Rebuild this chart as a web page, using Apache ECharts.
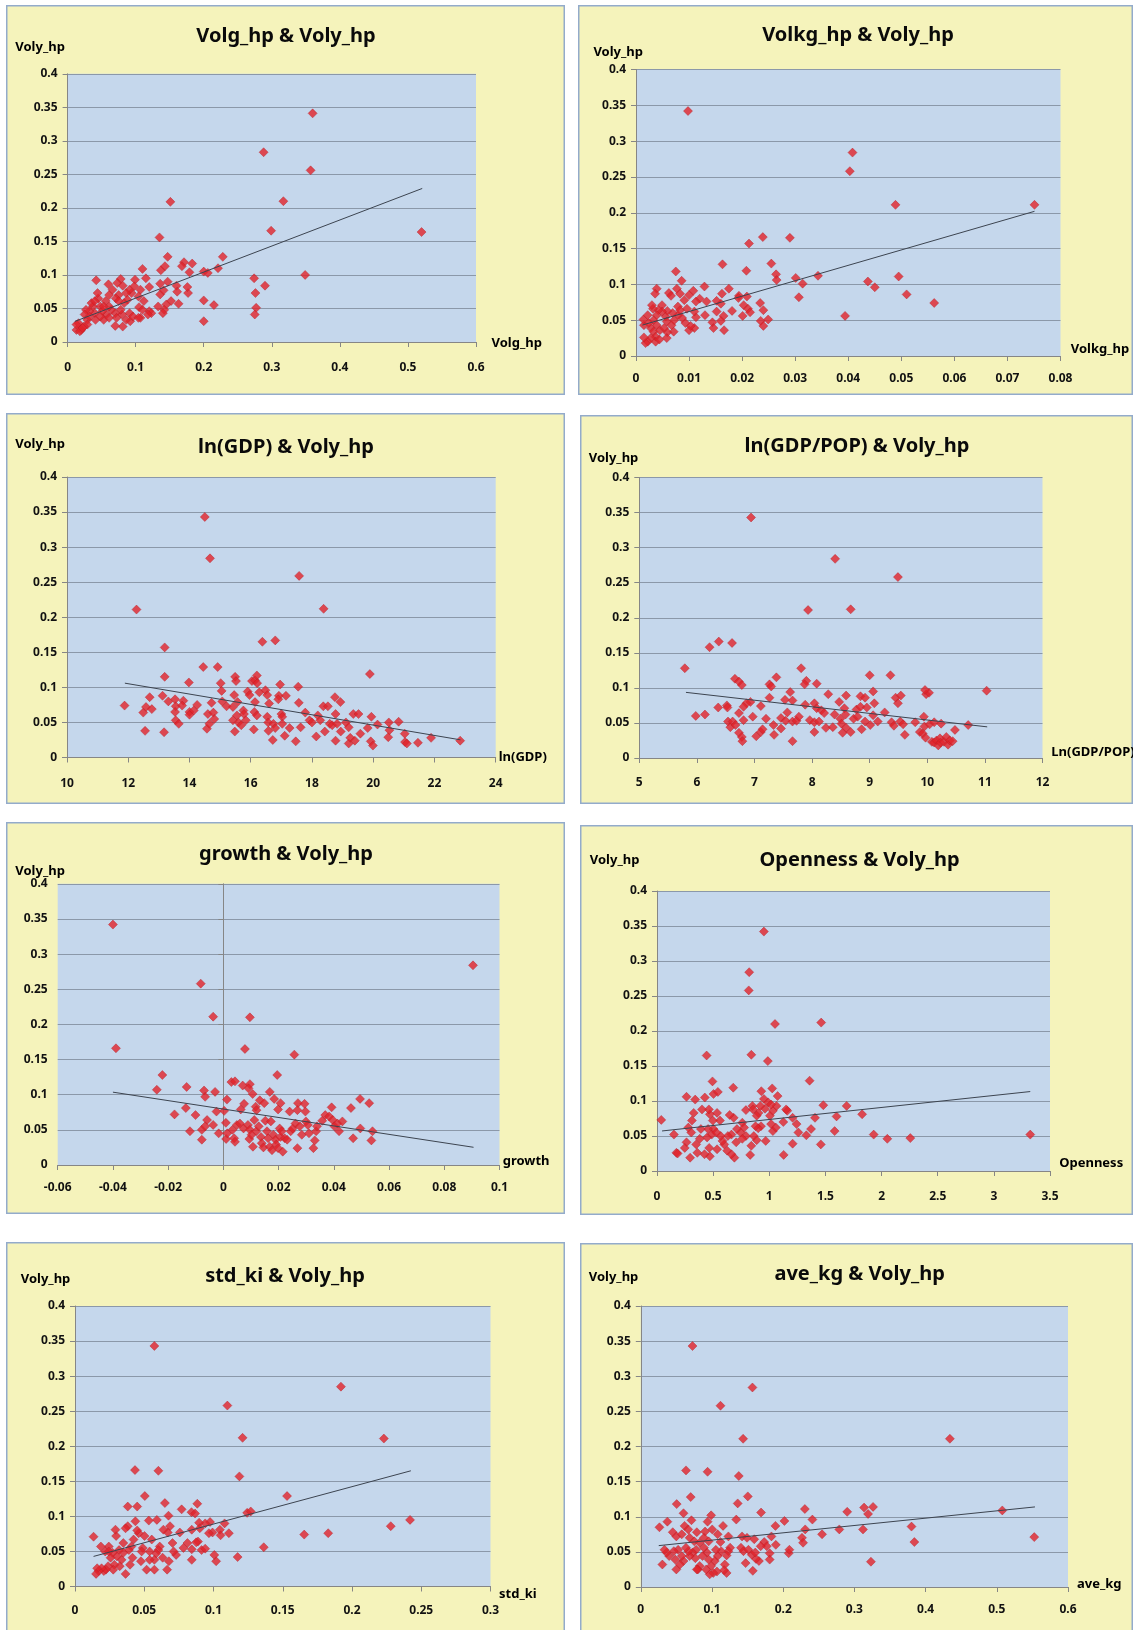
<!DOCTYPE html>
<html><head><meta charset="utf-8">
<script src="https://cdn.jsdelivr.net/npm/echarts/dist/echarts.min.js"></script>
<style>
html,body{margin:0;padding:0;background:#fff;width:1134px;height:1630px;overflow:hidden;}
.panel{position:absolute;background:#F5F3BB;box-shadow:inset 0 0 0 1.5px #93ABCB;}
.chart{position:absolute;left:0;top:0;}
</style></head><body>
<script>
// ---------------- DATA ----------------
const yName = 'Voly_hp';
const titles = ['Volg_hp & Voly_hp','Volkg_hp & Voly_hp','ln(GDP) & Voly_hp','ln(GDP/POP) & Voly_hp','growth & Voly_hp','Openness & Voly_hp','std_ki & Voly_hp','ave_kg & Voly_hp'];
const xNames = ['Volg_hp','Volkg_hp','ln(GDP)','Ln(GDP/POP)','growth','Openness','std_ki','ave_kg'];
const xMin = [0, 0, 10, 5, -0.06, 0, 0, 0];
const xMax = [0.6, 0.08, 24, 12, 0.1, 3.5, 0.3, 0.6];
const xStep = [0.1, 0.01, 2, 1, 0.02, 0.5, 0.05, 0.1];
const yTicks = [0, 0.4, 0.05];

const volgHp = [[0.360,0.341],[0.288,0.283],[0.357,0.256],[0.151,0.209],[0.317,0.210],[0.299,0.166],[0.520,0.164],[0.135,0.156],[0.147,0.127],[0.228,0.127],[0.171,0.119],[0.183,0.117],[0.221,0.110],[0.200,0.105],[0.206,0.103],[0.179,0.104],[0.110,0.109],[0.137,0.107],[0.143,0.113],[0.168,0.113],[0.349,0.100],[0.274,0.095],[0.290,0.084],[0.276,0.073],[0.277,0.051],[0.275,0.041],[0.200,0.062],[0.215,0.055],[0.200,0.031],[0.163,0.057],[0.177,0.073],[0.176,0.082],[0.160,0.084],[0.161,0.075],[0.147,0.090],[0.136,0.087],[0.136,0.071],[0.141,0.077],[0.152,0.061],[0.145,0.056],[0.142,0.048],[0.140,0.043],[0.133,0.053],[0.120,0.046],[0.123,0.043],[0.115,0.095],[0.120,0.082],[0.107,0.036],[0.105,0.052],[0.110,0.048],[0.107,0.078],[0.104,0.068],[0.112,0.061],[0.099,0.093],[0.098,0.083],[0.094,0.073],[0.091,0.078],[0.086,0.073],[0.088,0.063],[0.092,0.031],[0.091,0.043],[0.083,0.058],[0.080,0.041],[0.081,0.023],[0.078,0.048],[0.078,0.094],[0.073,0.088],[0.081,0.084],[0.075,0.070],[0.071,0.065],[0.075,0.061],[0.070,0.043],[0.072,0.036],[0.070,0.024],[0.064,0.048],[0.061,0.070],[0.060,0.086],[0.056,0.061],[0.057,0.041],[0.053,0.033],[0.048,0.053],[0.045,0.065],[0.044,0.073],[0.042,0.092],[0.040,0.043],[0.041,0.033],[0.037,0.053],[0.035,0.058],[0.032,0.046],[0.029,0.033],[0.027,0.048],[0.025,0.041],[0.029,0.026],[0.024,0.023],[0.020,0.018],[0.016,0.028],[0.013,0.018],[0.018,0.016],[0.022,0.021],[0.013,0.026],[0.051,0.046],[0.040,0.061],[0.066,0.078],[0.061,0.036],[0.048,0.038],[0.086,0.033],[0.096,0.038],[0.104,0.036],[0.118,0.041],[0.061,0.053],[0.053,0.053],[0.032,0.038]];

const volkgHp = [[0.0098,0.342],[0.0408,0.284],[0.0403,0.258],[0.0489,0.211],[0.0751,0.211],[0.0239,0.166],[0.0290,0.165],[0.0213,0.157],[0.0163,0.128],[0.0255,0.129],[0.0208,0.119],[0.0264,0.114],[0.0265,0.106],[0.0301,0.109],[0.0314,0.101],[0.0343,0.112],[0.0437,0.104],[0.0450,0.096],[0.0495,0.111],[0.0510,0.086],[0.0562,0.074],[0.0394,0.056],[0.0307,0.082],[0.0075,0.118],[0.0086,0.105],[0.0129,0.097],[0.0175,0.094],[0.0077,0.094],[0.0039,0.094],[0.0036,0.087],[0.0108,0.091],[0.0100,0.085],[0.0083,0.087],[0.0062,0.088],[0.0066,0.084],[0.0091,0.078],[0.0120,0.080],[0.0113,0.076],[0.0133,0.076],[0.0162,0.087],[0.0160,0.073],[0.0152,0.077],[0.0194,0.084],[0.0193,0.081],[0.0209,0.083],[0.0234,0.074],[0.0203,0.071],[0.0211,0.066],[0.0215,0.061],[0.0240,0.064],[0.0201,0.056],[0.0235,0.049],[0.0249,0.051],[0.0240,0.042],[0.0181,0.063],[0.0165,0.056],[0.0160,0.049],[0.0166,0.036],[0.0144,0.047],[0.0146,0.039],[0.0152,0.062],[0.0130,0.057],[0.0113,0.054],[0.0110,0.039],[0.0100,0.036],[0.0103,0.042],[0.0093,0.046],[0.0087,0.053],[0.0079,0.057],[0.0079,0.069],[0.0110,0.062],[0.0069,0.060],[0.0059,0.063],[0.0056,0.055],[0.0058,0.048],[0.0067,0.043],[0.0071,0.034],[0.0059,0.033],[0.0058,0.025],[0.0049,0.071],[0.0049,0.062],[0.0042,0.064],[0.0032,0.066],[0.0030,0.071],[0.0039,0.057],[0.0033,0.050],[0.0039,0.043],[0.0028,0.039],[0.0033,0.034],[0.0037,0.027],[0.0028,0.025],[0.0037,0.020],[0.0044,0.023],[0.0022,0.020],[0.0018,0.018],[0.0015,0.026],[0.0015,0.043],[0.0014,0.051],[0.0024,0.046],[0.0045,0.036],[0.0053,0.039],[0.0022,0.057],[0.0072,0.050],[0.0083,0.064],[0.0096,0.066]];

const lnGdp = [[14.50,0.343],[14.67,0.284],[17.58,0.259],[12.27,0.211],[18.38,0.212],[13.19,0.157],[16.38,0.165],[16.80,0.167],[14.45,0.129],[14.92,0.129],[19.89,0.119],[13.19,0.115],[13.98,0.107],[11.88,0.074],[12.55,0.038],[12.49,0.064],[12.58,0.072],[12.70,0.086],[12.77,0.069],[13.12,0.088],[13.17,0.036],[13.31,0.080],[13.53,0.083],[13.55,0.073],[13.53,0.065],[13.55,0.053],[13.65,0.048],[13.80,0.081],[13.76,0.074],[14.00,0.065],[14.00,0.061],[14.14,0.067],[14.25,0.075],[14.57,0.041],[14.65,0.048],[14.60,0.062],[14.72,0.078],[14.78,0.064],[14.81,0.055],[15.02,0.106],[15.05,0.095],[15.07,0.080],[15.21,0.073],[15.42,0.072],[15.42,0.053],[15.48,0.037],[15.46,0.089],[15.49,0.115],[15.52,0.109],[15.57,0.079],[15.55,0.060],[15.60,0.050],[15.69,0.046],[15.76,0.067],[15.78,0.062],[15.84,0.053],[15.90,0.094],[15.96,0.089],[16.04,0.109],[16.14,0.110],[16.20,0.117],[16.21,0.106],[16.14,0.079],[16.12,0.065],[16.10,0.040],[16.20,0.060],[16.28,0.093],[16.48,0.096],[16.54,0.089],[16.60,0.077],[16.54,0.058],[16.57,0.050],[16.58,0.038],[16.72,0.025],[16.74,0.048],[16.80,0.042],[16.92,0.088],[16.90,0.083],[16.96,0.104],[17.00,0.062],[17.03,0.058],[17.03,0.048],[17.15,0.088],[17.11,0.031],[17.27,0.042],[17.47,0.023],[17.55,0.101],[17.57,0.078],[17.63,0.043],[17.78,0.064],[17.92,0.053],[18.00,0.050],[18.14,0.030],[18.19,0.060],[18.27,0.053],[18.37,0.073],[18.42,0.037],[18.52,0.073],[18.58,0.048],[18.66,0.046],[18.75,0.086],[18.77,0.062],[18.77,0.024],[18.82,0.048],[18.93,0.079],[18.94,0.037],[19.11,0.050],[19.20,0.043],[19.20,0.020],[19.25,0.028],[19.35,0.062],[19.40,0.024],[19.52,0.062],[19.58,0.034],[19.82,0.042],[19.92,0.023],[19.94,0.058],[19.99,0.017],[20.14,0.047],[20.49,0.029],[20.51,0.050],[20.53,0.039],[20.83,0.051],[21.03,0.034],[21.04,0.022],[21.10,0.020],[21.46,0.021],[21.89,0.028],[22.84,0.024]];

const lnGdpPop = [[6.94,0.343],[8.40,0.284],[9.49,0.258],[7.93,0.211],[8.67,0.212],[5.79,0.128],[6.22,0.158],[6.38,0.166],[6.61,0.164],[7.81,0.128],[7.90,0.110],[7.87,0.105],[8.08,0.106],[7.38,0.115],[7.26,0.105],[7.29,0.102],[6.66,0.113],[6.73,0.109],[6.78,0.104],[9.00,0.118],[9.36,0.118],[9.06,0.095],[11.03,0.096],[9.98,0.091],[10.03,0.093],[9.96,0.097],[7.62,0.094],[8.28,0.091],[8.59,0.089],[8.84,0.088],[8.92,0.086],[9.45,0.086],[9.54,0.089],[9.08,0.078],[9.49,0.078],[8.04,0.078],[7.88,0.076],[7.66,0.082],[7.53,0.083],[7.26,0.086],[6.93,0.080],[6.86,0.078],[6.81,0.073],[7.11,0.074],[6.37,0.072],[6.52,0.075],[5.98,0.060],[6.14,0.062],[6.53,0.072],[6.73,0.064],[6.81,0.054],[6.54,0.052],[6.58,0.044],[6.62,0.052],[6.67,0.047],[6.73,0.036],[6.78,0.030],[6.79,0.024],[6.97,0.059],[7.03,0.031],[7.11,0.037],[7.14,0.041],[7.20,0.056],[7.33,0.047],[7.34,0.033],[7.46,0.057],[7.46,0.042],[7.57,0.065],[7.54,0.053],[7.66,0.024],[7.66,0.052],[7.73,0.053],[7.77,0.059],[7.96,0.054],[8.04,0.037],[8.04,0.051],[8.12,0.052],[8.08,0.071],[8.16,0.068],[8.21,0.064],[8.24,0.043],[8.36,0.044],[8.39,0.062],[8.47,0.080],[8.49,0.056],[8.51,0.049],[8.53,0.036],[8.56,0.071],[8.58,0.062],[8.59,0.043],[8.67,0.037],[8.72,0.056],[8.77,0.069],[8.79,0.059],[8.84,0.073],[8.86,0.041],[8.92,0.052],[8.95,0.072],[9.01,0.047],[9.06,0.061],[9.14,0.052],[9.26,0.065],[9.38,0.051],[9.42,0.046],[9.53,0.052],[9.58,0.048],[9.61,0.033],[9.79,0.051],[9.87,0.037],[9.92,0.035],[9.94,0.059],[9.95,0.045],[9.97,0.029],[10.04,0.048],[10.12,0.051],[10.08,0.023],[10.12,0.022],[10.16,0.025],[10.19,0.018],[10.22,0.028],[10.23,0.022],[10.24,0.049],[10.29,0.023],[10.33,0.030],[10.36,0.019],[10.39,0.025],[10.44,0.024],[10.48,0.040],[10.71,0.047]];

const growth = [[-0.0400,0.342],[0.0904,0.284],[-0.0082,0.258],[-0.0037,0.211],[0.0096,0.210],[-0.0389,0.166],[0.0078,0.165],[0.0257,0.157],[-0.0221,0.128],[0.0195,0.128],[-0.0241,0.107],[-0.0133,0.111],[-0.0070,0.106],[-0.0030,0.104],[0.0029,0.118],[0.0042,0.119],[0.0070,0.113],[0.0096,0.115],[0.0091,0.109],[0.0106,0.101],[-0.0066,0.097],[0.0013,0.093],[0.0168,0.104],[0.0184,0.094],[0.0132,0.092],[0.0148,0.088],[0.0207,0.088],[0.0240,0.076],[0.0270,0.088],[0.0294,0.087],[0.0495,0.094],[0.0528,0.088],[0.0462,0.081],[0.0392,0.082],[0.0297,0.076],[0.0268,0.078],[0.0198,0.079],[0.0075,0.087],[0.0063,0.079],[0.0117,0.083],[0.0120,0.078],[-0.0136,0.081],[-0.0025,0.076],[0.0003,0.077],[-0.0177,0.072],[-0.0101,0.071],[-0.0059,0.064],[-0.0037,0.057],[0.0009,0.060],[-0.0017,0.045],[-0.0121,0.048],[-0.0078,0.036],[0.0010,0.037],[0.0014,0.045],[0.0039,0.038],[0.0042,0.033],[0.0033,0.050],[0.0049,0.057],[0.0060,0.059],[0.0073,0.052],[0.0089,0.057],[0.0096,0.050],[0.0094,0.037],[0.0102,0.043],[0.0107,0.026],[0.0112,0.064],[0.0119,0.048],[0.0128,0.055],[0.0136,0.040],[0.0139,0.031],[0.0145,0.025],[0.0152,0.063],[0.0158,0.048],[0.0162,0.038],[0.0168,0.026],[0.0172,0.062],[0.0176,0.021],[0.0181,0.043],[0.0189,0.036],[0.0191,0.029],[0.0198,0.024],[0.0204,0.052],[0.0207,0.040],[0.0211,0.048],[0.0215,0.019],[0.0222,0.038],[0.0231,0.036],[0.0244,0.048],[0.0251,0.052],[0.0261,0.059],[0.0268,0.024],[0.0277,0.055],[0.0284,0.043],[0.0299,0.062],[0.0306,0.057],[0.0310,0.045],[0.0326,0.024],[0.0331,0.035],[0.0336,0.048],[0.0339,0.055],[0.0358,0.063],[0.0369,0.071],[0.0383,0.069],[0.0396,0.064],[0.0402,0.055],[0.0413,0.059],[0.0419,0.048],[0.0431,0.062],[0.0470,0.038],[0.0496,0.052],[0.0536,0.035],[0.0540,0.048],[-0.0078,0.050],[-0.0066,0.055]];

const openness = [[0.952,0.342],[0.821,0.284],[0.817,0.258],[1.051,0.210],[1.462,0.212],[0.840,0.166],[0.442,0.165],[0.987,0.157],[1.359,0.129],[0.494,0.128],[0.679,0.119],[1.026,0.118],[0.929,0.114],[0.263,0.106],[1.074,0.107],[0.426,0.105],[0.340,0.102],[0.503,0.110],[0.542,0.113],[0.952,0.103],[1.481,0.094],[1.689,0.093],[0.038,0.073],[0.151,0.052],[0.173,0.026],[0.183,0.025],[1.827,0.081],[1.599,0.078],[1.407,0.076],[1.582,0.057],[1.372,0.060],[1.330,0.051],[1.259,0.055],[1.243,0.067],[1.208,0.076],[1.160,0.086],[1.208,0.039],[1.128,0.023],[1.125,0.070],[1.459,0.038],[1.930,0.052],[2.051,0.046],[2.256,0.047],[3.324,0.052],[1.032,0.057],[1.058,0.062],[1.016,0.067],[1.006,0.079],[1.032,0.086],[1.064,0.093],[0.990,0.098],[1.016,0.095],[0.962,0.089],[0.920,0.093],[0.904,0.083],[0.888,0.079],[0.850,0.093],[0.792,0.087],[0.856,0.088],[0.926,0.064],[0.901,0.061],[0.878,0.064],[0.968,0.043],[0.862,0.050],[0.888,0.044],[0.840,0.036],[0.830,0.023],[0.792,0.050],[0.760,0.069],[0.776,0.062],[0.744,0.055],[0.760,0.046],[0.705,0.041],[0.689,0.019],[0.663,0.024],[0.683,0.076],[0.647,0.080],[0.663,0.052],[0.631,0.050],[0.625,0.029],[0.599,0.038],[0.583,0.043],[0.567,0.050],[0.561,0.072],[0.535,0.083],[0.503,0.060],[0.497,0.072],[0.487,0.052],[0.471,0.081],[0.462,0.088],[0.455,0.060],[0.446,0.048],[0.465,0.033],[0.471,0.021],[0.423,0.024],[0.401,0.088],[0.391,0.060],[0.381,0.046],[0.359,0.026],[0.349,0.038],[0.327,0.083],[0.311,0.072],[0.305,0.055],[0.279,0.062],[0.295,0.019],[0.263,0.041],[0.247,0.033],[0.535,0.031],[0.529,0.055],[0.712,0.060],[1.150,0.088]];

const stdKi = [[0.0573,0.343],[0.1920,0.285],[0.1100,0.258],[0.1210,0.212],[0.2230,0.211],[0.0433,0.166],[0.0602,0.165],[0.1187,0.157],[0.0504,0.129],[0.1531,0.129],[0.0649,0.119],[0.0883,0.118],[0.0381,0.114],[0.0449,0.114],[0.0675,0.101],[0.0770,0.110],[0.0841,0.106],[0.0867,0.104],[0.1243,0.105],[0.1269,0.107],[0.2419,0.095],[0.2280,0.086],[0.1828,0.076],[0.1655,0.074],[0.1363,0.056],[0.1174,0.042],[0.1019,0.036],[0.1006,0.045],[0.1111,0.076],[0.1046,0.081],[0.1051,0.073],[0.1080,0.090],[0.0993,0.077],[0.0975,0.092],[0.0940,0.090],[0.0896,0.091],[0.0901,0.083],[0.0888,0.064],[0.0875,0.063],[0.0914,0.052],[0.0940,0.054],[0.0843,0.081],[0.0843,0.053],[0.0843,0.038],[0.0812,0.062],[0.0783,0.055],[0.0757,0.077],[0.0730,0.045],[0.0712,0.050],[0.0704,0.062],[0.0686,0.086],[0.0670,0.077],[0.0678,0.036],[0.0665,0.024],[0.0638,0.081],[0.0633,0.041],[0.0612,0.057],[0.0602,0.052],[0.0591,0.095],[0.0586,0.047],[0.0573,0.024],[0.0573,0.038],[0.0554,0.067],[0.0539,0.050],[0.0539,0.038],[0.0533,0.094],[0.0517,0.024],[0.0502,0.072],[0.0489,0.055],[0.0481,0.050],[0.0476,0.036],[0.0460,0.076],[0.0449,0.080],[0.0436,0.093],[0.0423,0.067],[0.0407,0.057],[0.0415,0.041],[0.0397,0.031],[0.0389,0.052],[0.0381,0.086],[0.0365,0.083],[0.0365,0.018],[0.0349,0.048],[0.0349,0.062],[0.0336,0.038],[0.0323,0.029],[0.0318,0.052],[0.0302,0.043],[0.0297,0.072],[0.0292,0.081],[0.0284,0.031],[0.0276,0.024],[0.0271,0.048],[0.0257,0.041],[0.0244,0.057],[0.0239,0.029],[0.0223,0.024],[0.0208,0.022],[0.0192,0.026],[0.0187,0.057],[0.0171,0.022],[0.0160,0.026],[0.0152,0.018],[0.0134,0.071],[0.0218,0.050],[0.0244,0.050],[0.0967,0.076]];

const aveKg = [[0.0726,0.343],[0.1568,0.284],[0.1119,0.258],[0.1437,0.211],[0.4341,0.211],[0.0635,0.166],[0.0938,0.164],[0.1376,0.158],[0.0701,0.128],[0.1503,0.129],[0.0504,0.118],[0.1361,0.119],[0.2304,0.111],[0.2899,0.107],[0.3136,0.113],[0.3192,0.104],[0.3262,0.114],[0.5077,0.109],[0.1689,0.106],[0.0600,0.105],[0.0988,0.102],[0.1341,0.096],[0.2017,0.094],[0.2410,0.096],[0.0373,0.093],[0.0711,0.095],[0.0938,0.093],[0.0262,0.085],[0.0615,0.087],[0.0666,0.082],[0.0787,0.078],[0.0903,0.079],[0.1003,0.082],[0.1155,0.087],[0.1891,0.087],[0.2309,0.082],[0.2788,0.082],[0.3121,0.082],[0.3802,0.086],[0.0449,0.078],[0.0499,0.072],[0.0575,0.075],[0.0686,0.070],[0.0751,0.065],[0.0827,0.063],[0.0887,0.070],[0.0953,0.065],[0.1079,0.075],[0.1119,0.064],[0.1230,0.072],[0.1422,0.072],[0.1492,0.070],[0.1593,0.068],[0.1835,0.072],[0.1734,0.064],[0.1769,0.058],[0.1684,0.058],[0.1896,0.060],[0.2264,0.070],[0.2279,0.063],[0.2546,0.075],[0.3842,0.064],[0.5526,0.071],[0.2077,0.048],[0.1810,0.048],[0.1810,0.039],[0.1659,0.037],[0.1618,0.040],[0.1573,0.023],[0.1472,0.034],[0.1407,0.056],[0.1442,0.051],[0.1512,0.053],[0.1558,0.046],[0.1608,0.049],[0.1255,0.056],[0.1230,0.051],[0.1205,0.045],[0.1180,0.032],[0.1205,0.020],[0.1170,0.024],[0.1129,0.051],[0.1079,0.044],[0.1054,0.053],[0.1039,0.037],[0.1069,0.022],[0.1018,0.020],[0.0988,0.030],[0.0968,0.018],[0.0953,0.039],[0.0928,0.049],[0.0887,0.056],[0.0867,0.044],[0.0827,0.030],[0.0802,0.025],[0.0777,0.053],[0.0766,0.041],[0.0726,0.049],[0.0686,0.044],[0.0666,0.051],[0.0635,0.056],[0.0600,0.037],[0.0575,0.044],[0.0550,0.032],[0.0524,0.053],[0.0499,0.025],[0.0484,0.039],[0.0464,0.051],[0.0398,0.044],[0.0363,0.049],[0.0333,0.053],[0.0303,0.032],[0.2087,0.053],[0.3232,0.036],[0.0787,0.025],[0.0918,0.025]];

// trend line endpoints
const trendVolg = [[0.0107,0.0307],[0.521,0.229]];
const trendVolkg = [[0.0012,0.0432],[0.0751,0.202]];
const trendLnGdp = [[11.89,0.106],[22.85,0.0252]];
const trendLnGdpPop = [[5.81,0.0936],[11.04,0.0444]];
const trendGrowth = [[-0.040,0.1036],[0.0906,0.0252]];
const trendOpenness = [[0.045,0.0572],[3.324,0.1135]];
const trendStdKi = [[0.0134,0.0429],[0.2425,0.165]];
const trendAveKg = [[0.0252,0.0589],[0.5536,0.114]];

const pointSets = [volgHp, volkgHp, lnGdp, lnGdpPop, growth, openness, stdKi, aveKg];
const trendSets = [trendVolg, trendVolkg, trendLnGdp, trendLnGdpPop, trendGrowth, trendOpenness, trendStdKi, trendAveKg];

// ---------------- LAYOUT ----------------
const layouts = [
 {box:[6,5,559,390],    grid:[61.6,89,68.8,53],   t:[280,30],    yn:[9.3,41.9],  xn:[485.5,338.7], xm:20},
 {box:[578,5,555,390],  grid:[58,72.5,64.5,39],   t:[280,29],    yn:[15.4,46.9], xn:[492.7,344],   xm:17},
 {box:[6,413,559,391],  grid:[61,69.3,64,46.5],   t:[280,33.5],  yn:[9.3,30.8],  xn:[492.7,344],   xm:20},
 {box:[580,415,553,389],grid:[59.3,90.5,62.5,46], t:[277,30.5],  yn:[8.7,43],    xn:[471.3,337],   xm:18.5},
 {box:[6,822,559,392],  grid:[51.7,65.5,61.8,49], t:[280,30.8],  yn:[9.3,49.2],  xn:[496.7,339.7], xm:16.5},
 {box:[580,825,553,390],grid:[77,83,66,44],       t:[279.6,34.5],yn:[9.8,35.2],  xn:[479.2,338],   xm:20},
 {box:[6,1242,559,400], grid:[69,74.5,64,55.5],   t:[279,33],    yn:[14.7,37.4], xn:[493,352],     xm:18},
 {box:[580,1243,553,400],grid:[60.8,65,63,56],    t:[279.6,30.4],yn:[8.7,34.7],  xn:[497,341],     xm:16.6}
];

const FONT = '"Noto Sans", "DejaVu Sans", sans-serif';
const axisGrey = '#868686';

layouts.forEach((L, i) => {
  const panel = document.createElement('div');
  panel.className = 'panel';
  panel.style.left = L.box[0] + 'px';
  panel.style.top = L.box[1] + 'px';
  panel.style.width = L.box[2] + 'px';
  panel.style.height = L.box[3] + 'px';
  document.body.appendChild(panel);
  const el = document.createElement('div');
  el.className = 'chart';
  el.style.width = L.box[2] + 'px';
  el.style.height = L.box[3] + 'px';
  panel.appendChild(el);
  const chart = echarts.init(el, null, {renderer: 'canvas', width: L.box[2], height: L.box[3]});
  chart.setOption({
    animation: false,
    backgroundColor: 'transparent',
    textStyle: {fontFamily: FONT},
    title: {
      text: titles[i], left: L.t[0], top: L.t[1] - 9, textAlign: 'center', padding: 0,
      textStyle: {fontFamily: FONT, fontSize: 20, fontWeight: 'bold', color: '#0a0a0a'}
    },
    grid: {
      left: L.grid[0], right: L.grid[1], top: L.grid[2], bottom: L.grid[3],
      show: true, backgroundColor: '#C5D7EC', borderWidth: 0
    },
    xAxis: {
      type: 'value', min: xMin[i], max: xMax[i], interval: xStep[i],
      axisLine: {show: true, onZero: true, lineStyle: {color: axisGrey, width: 1}},
      axisTick: {show: true, length: 5, lineStyle: {color: axisGrey}},
      axisLabel: {margin: L.xm, fontFamily: FONT, fontSize: 12, fontWeight: 'bold', color: '#111'},
      splitLine: {show: false}
    },
    yAxis: {
      type: 'value', min: yTicks[0], max: yTicks[1], interval: yTicks[2],
      axisLine: {show: true, onZero: true, lineStyle: {color: axisGrey, width: 1}},
      axisTick: {show: true, length: 5, lineStyle: {color: axisGrey}},
      axisLabel: {margin: 10, fontFamily: FONT, fontSize: 12, fontWeight: 'bold', color: '#111'},
      splitLine: {show: true, lineStyle: {color: '#8B98A9', width: 1}}
    },
    graphic: [
      {type: 'text', x: L.yn[0], y: L.yn[1],
       style: {text: yName, fontFamily: FONT, fontSize: 13, fontWeight: 'bold', fill: '#000', align: 'left', verticalAlign: 'middle'}},
      {type: 'text', x: L.xn[0], y: L.xn[1],
       style: {text: xNames[i], fontFamily: FONT, fontSize: 13, fontWeight: 'bold', fill: '#000', align: 'left', verticalAlign: 'middle'}}
    ],
    series: [
      {type: 'scatter', data: pointSets[i], symbol: 'diamond', symbolSize: 9,
       itemStyle: {color: '#E1232B', borderColor: '#B71C22', borderWidth: 0.5}, z: 2},
      {type: 'line', data: trendSets[i], showSymbol: false, symbol: 'none',
       lineStyle: {color: '#3C4450', width: 1}, z: 3}
    ]
  });
});
</script>
</body></html>
